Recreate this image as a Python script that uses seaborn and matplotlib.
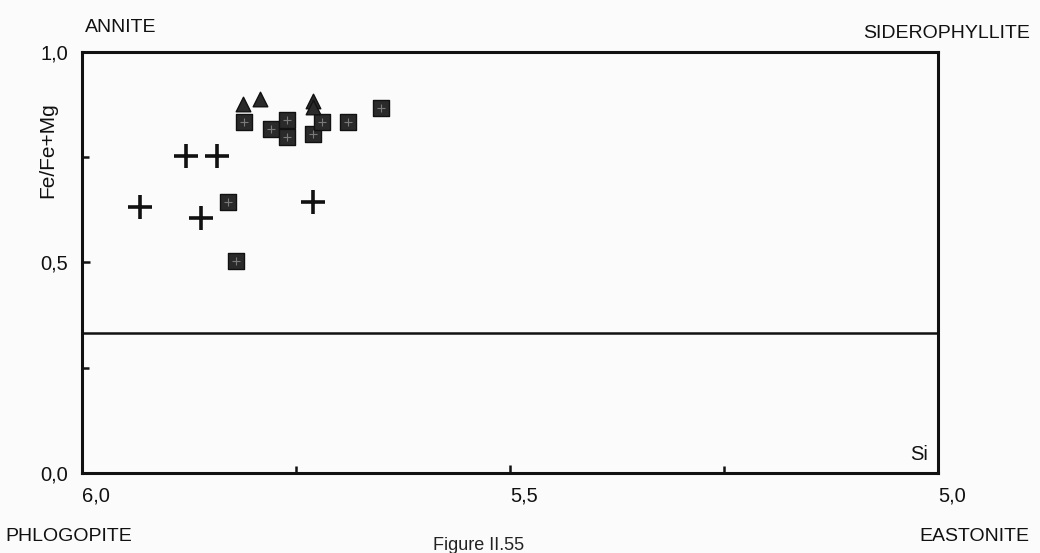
import pandas as pd
import seaborn as sns
import matplotlib.pyplot as plt

# biotite compositions (Si per formula, Fe/Fe+Mg)
cross_si = [5.932, 5.879, 5.842, 5.861, 5.730]
cross_fe = [0.632, 0.753, 0.753, 0.606, 0.644]

square_si = [5.811, 5.779, 5.761, 5.761, 5.730, 5.720, 5.689, 5.651, 5.829, 5.820]
square_fe = [0.834, 0.817, 0.838, 0.798, 0.805, 0.834, 0.834, 0.867, 0.644, 0.504]

tri_si = [5.812, 5.792, 5.730, 5.730]
tri_fe = [0.876, 0.888, 0.884, 0.869]

boundary = 1 / 3  # annite-phlogopite divide

x_ticks = [6.0, 5.5, 5.0]
x_labels = ["6,0", "5,5", "5,0"]
y_ticks = [0.0, 0.5, 1.0]
y_labels = ["0,0", "0,5", "1,0"]

crosses = pd.DataFrame({"si": cross_si, "fe": cross_fe})
squares = pd.DataFrame({"si": square_si, "fe": square_fe})
tris = pd.DataFrame({"si": tri_si, "fe": tri_fe})

sns.set_theme(style="white")
plt.rcParams["font.family"] = ["Liberation Sans", "DejaVu Sans"]

fig = plt.figure(figsize=(10.4, 5.53), dpi=100, facecolor="#fbfbfb")
ax = fig.add_axes([0.0788, 0.1447, 0.8231, 0.7613])
ax.set_facecolor("#fbfbfb")

sns.scatterplot(data=crosses, x="si", y="fe", marker="+", s=320,
                color="#111111", linewidth=2.6, ax=ax, zorder=3)
sns.scatterplot(data=squares, x="si", y="fe", marker="s", s=120,
                color="#2a2a2a", edgecolor="#111111", linewidth=1.0, ax=ax, zorder=3)
# faint cross pattern inside the boxes
sns.scatterplot(data=squares, x="si", y="fe", marker="+", s=40,
                color="#7a7a7a", linewidth=0.8, ax=ax, zorder=4)
sns.scatterplot(data=tris, x="si", y="fe", marker="^", s=110,
                color="#2a2a2a", edgecolor="#111111", linewidth=1.0, ax=ax, zorder=3)

ax.axhline(boundary, color="#111111", lw=1.8, zorder=2)

ax.set_xlim(6.0, 5.0)
ax.set_ylim(0.0, 1.0)

ax.set_xticks(x_ticks)
ax.set_xticklabels(x_labels, ha="left", fontsize=14.5)
ax.set_xticks([5.75, 5.25], minor=True)
ax.set_yticks(y_ticks)
ax.set_yticklabels(y_labels, fontsize=14.5)
ax.set_yticks([0.25, 0.75], minor=True)
ax.tick_params(axis="both", which="both", direction="in", width=1.8,
               colors="#111111", bottom=True, left=True)
ax.tick_params(axis="both", which="major", length=6, pad=10)
ax.tick_params(axis="both", which="minor", length=5)

for sp in ax.spines.values():
    sp.set_color("#111111")
    sp.set_linewidth(2.2)

ax.set_xlabel("")
ax.set_ylabel("")
ax.text(0.988, 0.043, "Si", transform=ax.transAxes, ha="right", va="center",
        fontsize=14.5, color="#111111")

fig.text(0.046, 0.729, "Fe/Fe+Mg", rotation=90, ha="center", va="center",
         fontsize=15, color="#111111")
fig.text(0.082, 0.951, "ANNITE", ha="left", va="center", fontsize=14, color="#111111")
fig.text(0.990, 0.940, "SIDEROPHYLLITE", ha="right", va="center", fontsize=14,
         color="#111111")
fig.text(0.005, 0.029, "PHLOGOPITE", ha="left", va="center", fontsize=14,
         color="#111111")
fig.text(0.990, 0.029, "EASTONITE", ha="right", va="center", fontsize=14,
         color="#111111")
fig.text(0.46, 0.013, "Figure II.55", ha="center", va="center", fontsize=13,
         color="#222222")

plt.savefig("out.png", dpi=100, facecolor=fig.get_facecolor())
